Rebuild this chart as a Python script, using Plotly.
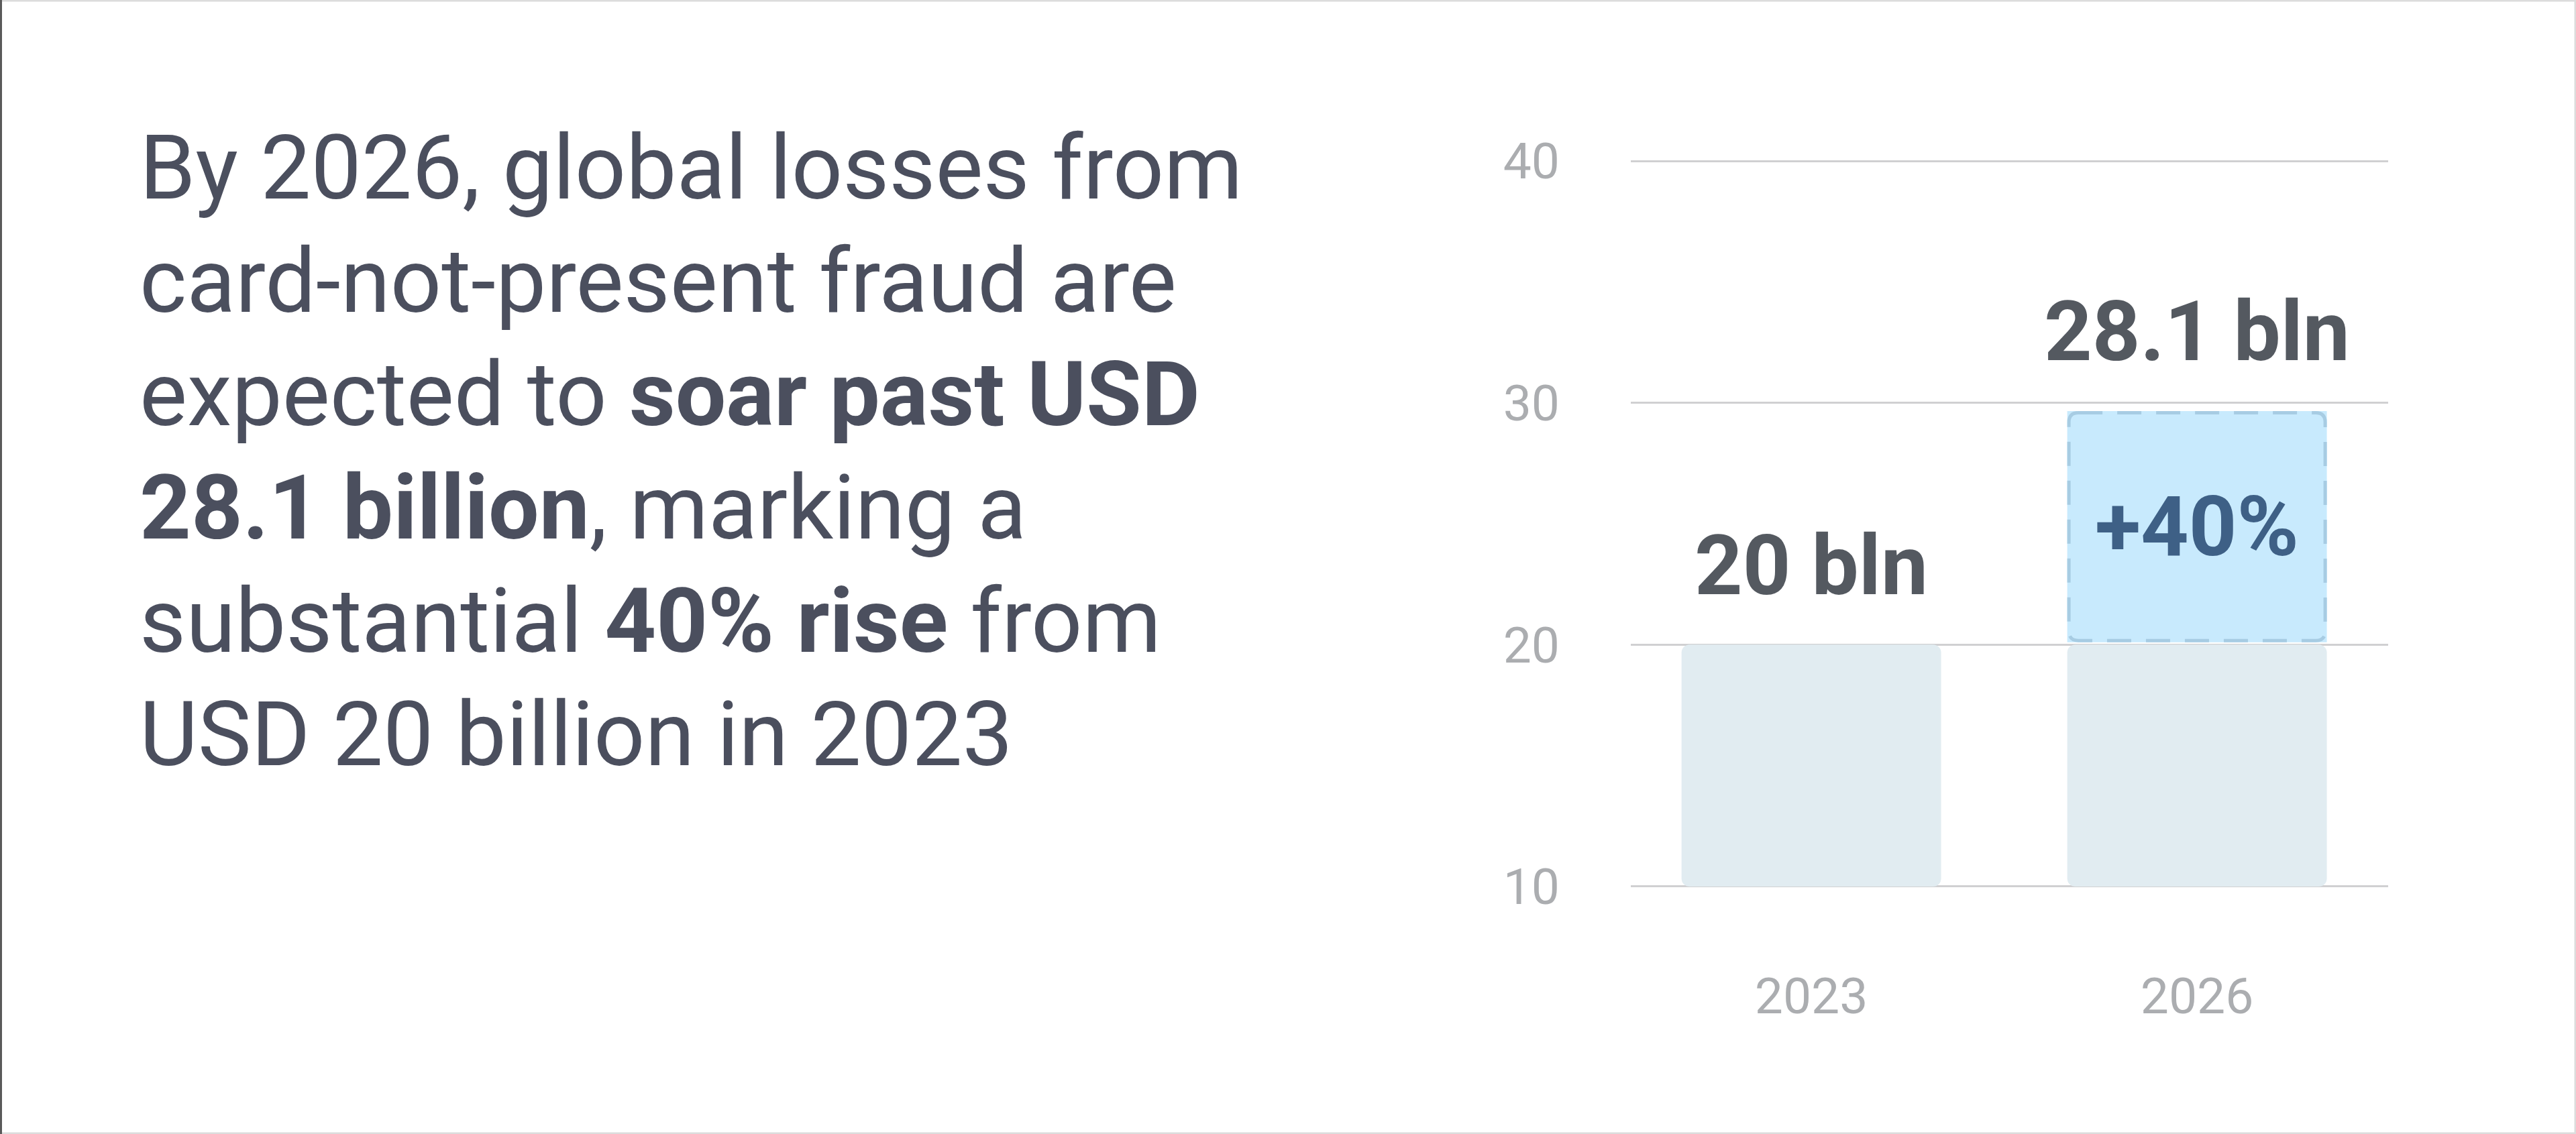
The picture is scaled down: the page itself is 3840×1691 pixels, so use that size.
import plotly.graph_objects as go

# ---------------- data ----------------
years = ["2023", "2026"]
loss_bln = [20, 28.1]            # labelled values
base_bln = [20, 20]              # light bars (2026 shows the 2023 level underneath)
box_bottom = 20.1                # dashed "increase" box, as drawn
box_top = 29.66
growth_pct = 40
y_ticks = [10, 20, 30, 40]
paragraph = [
    "By 2026, global losses from",
    "card-not-present fraud are",
    "expected to <b>soar past USD</b>",
    "<b>28.1 billion</b>, marking a",
    "substantial <b>40% rise</b> from",
    "USD 20 billion in 2023",
]

# ---------------- layout geometry (pixels) ----------------
FW, FH = 3840, 1691
L, R, T, B = 2431, 3560, 204, 1358
PW, PH = R - L, B - T
X_RANGE = [-0.468, 1.4955]
Y_RANGE = [9, 41]
UX = PW / (X_RANGE[1] - X_RANGE[0])
UY = PH / (Y_RANGE[1] - Y_RANGE[0])
BAR_W = 0.673
axis_min = y_ticks[0]


def px_x(px):
    return (px - L) / PW


def px_y(py):
    return (B - py) / PH


FONT = "Roboto"
TEXT_COL = "#4B4F5E"
LABEL_COL = "#545960"
TICK_COL = "#ABADB0"
GRID_COL = "#D0D0D2"
BAR_COL = "#E1ECF1"
BOX_FILL = "#C8EAFD"
BOX_LINE = "#A7CCE3"
PCT_COL = "#3E6086"

idx = list(range(len(years)))

fig = go.Figure()

# light base bars
fig.add_trace(go.Bar(
    x=idx, y=[v - axis_min for v in base_bln], base=[axis_min] * len(idx),
    width=BAR_W, marker=dict(color=BAR_COL, line=dict(width=0), cornerradius=12),
    hoverinfo="skip", showlegend=False,
))

# increase box fill (2026)
fig.add_trace(go.Bar(
    x=[idx[1]], y=[box_top - box_bottom], base=[box_bottom],
    width=BAR_W, marker=dict(color=BOX_FILL, line=dict(width=0)),
    hoverinfo="skip", showlegend=False,
))

# dashed rounded outline of the increase box
inset_x, inset_y = 2.5 / UX, 2.5 / UY
rx, ry = 14 / UX, 14 / UY
x0 = idx[1] - BAR_W / 2 + inset_x
x1 = idx[1] + BAR_W / 2 - inset_x
y0 = box_bottom + inset_y
y1 = box_top - inset_y
path = (
    f"M {x0 + rx},{y1} L {x1 - rx},{y1} Q {x1},{y1} {x1},{y1 - ry} "
    f"L {x1},{y0 + ry} Q {x1},{y0} {x1 - rx},{y0} "
    f"L {x0 + rx},{y0} Q {x0},{y0} {x0},{y0 + ry} "
    f"L {x0},{y1 - ry} Q {x0},{y1} {x0 + rx},{y1} Z"
)
fig.add_shape(type="path", path=path, xref="x", yref="y",
              line=dict(color=BOX_LINE, width=5, dash="36px,22px"),
              fillcolor="rgba(0,0,0,0)", layer="above")

# value labels
tops = [base_bln[0], box_top]
for i, (v, t) in enumerate(zip(loss_bln, tops)):
    fig.add_annotation(
        x=idx[i], y=t, xref="x", yref="y", text=f"<b>{v:g} bln</b>",
        showarrow=False, xanchor="center", yanchor="middle", yshift=118,
        font=dict(family=FONT, size=125, color=LABEL_COL),
    )

fig.add_annotation(
    x=idx[1], y=(box_bottom + box_top) / 2, xref="x", yref="y",
    text=f"<b>+{growth_pct}%</b>", showarrow=False,
    xanchor="center", yanchor="middle",
    font=dict(family=FONT, size=125, color=PCT_COL),
)

# paragraph (one annotation per line)
baselines = [297, 466, 635, 804, 973, 1142]
PARA_SIZE = 134
for line, bl in zip(paragraph, baselines):
    fig.add_annotation(
        x=px_x(206), y=px_y(bl - 0.35 * PARA_SIZE), xref="paper", yref="paper",
        text=line, showarrow=False, xanchor="left", yanchor="middle",
        font=dict(family=FONT, size=PARA_SIZE, color=TEXT_COL),
    )

# outer frame
fig.add_shape(type="rect", xref="paper", yref="paper",
              x0=px_x(1), x1=px_x(FW - 1), y0=px_y(FH - 1), y1=px_y(1),
              line=dict(color="#DCDCDC", width=3), fillcolor="rgba(0,0,0,0)")
fig.add_shape(type="line", xref="paper", yref="paper",
              x0=px_x(1.5), x1=px_x(1.5), y0=px_y(FH), y1=px_y(0),
              line=dict(color="#5A5A5A", width=3))

fig.update_layout(
    width=FW, height=FH, autosize=False,
    margin=dict(l=L, r=FW - R, t=T, b=FH - B, pad=0),
    paper_bgcolor="#FFFFFF", plot_bgcolor="#FFFFFF",
    barmode="overlay", showlegend=False,
    font=dict(family=FONT, color=TEXT_COL),
    xaxis=dict(
        range=X_RANGE, tickvals=idx, ticktext=years,
        showgrid=False, zeroline=False, showline=False, ticks="",
        tickfont=dict(family=FONT, size=75, color=TICK_COL),
        ticklabelstandoff=77, fixedrange=True,
    ),
    yaxis=dict(
        range=Y_RANGE, tickvals=y_ticks, ticktext=[str(t) for t in y_ticks],
        showgrid=True, gridcolor=GRID_COL, gridwidth=3,
        zeroline=False, showline=False, ticks="",
        tickfont=dict(family=FONT, size=75, color=TICK_COL),
        ticklabelstandoff=105, fixedrange=True,
    ),
)

fig.write_html(
    "out.html",
    config={"displayModeBar": False},
    post_script="document.body.style.margin='0';document.body.style.overflow='hidden';",
)
